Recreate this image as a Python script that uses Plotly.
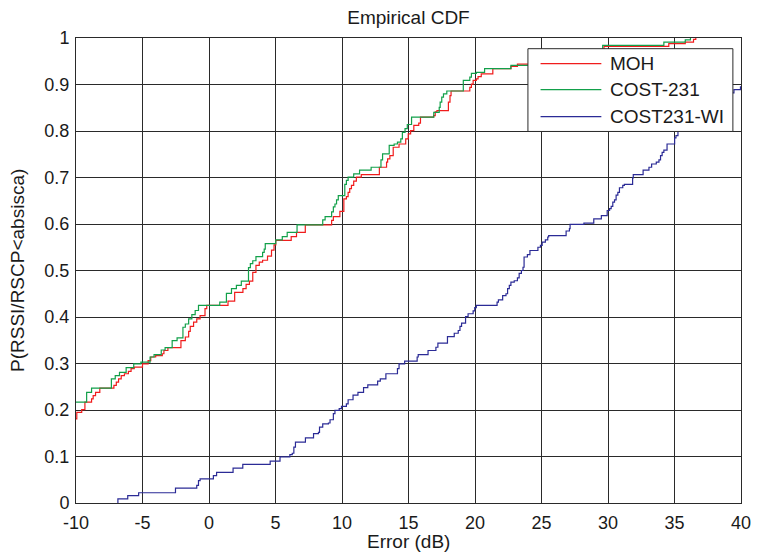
import plotly.graph_objects as go

# ---------------- data (step points of the empirical CDFs) ----------------
MOH_X = [-10, -9.94, -9.57, -9.33, -8.83, -8.71, -8.53, -8.21, -7.15, -6.97, -6.80, -6.60, -6.36, -6.06,
         -5.86, -5.62, -5.00, -4.58, -4.38, -4.01, -3.51, -3.39, -3.09, -2.11, -1.78, -1.53, -1.41, -1.16,
         -0.92, -0.67, -0.30, -0.17, 1.43, 1.93, 2.55, 2.79, 3.04, 3.29, 3.53, 3.78, 4.03, 4.40, 4.70, 4.89,
         5.02, 6.18, 6.58, 7.24, 9.22, 9.35, 9.84, 10.14, 10.33, 10.46, 10.58, 10.71, 10.88, 11.08, 11.45,
         12.81, 13.35, 13.43, 13.60, 13.85, 14.29, 14.79, 14.98, 15.16, 15.40, 15.77, 15.90, 16.89, 17.01,
         17.14, 18.00, 18.12, 18.20, 19.61, 19.73, 19.86, 20.10, 20.23, 20.47, 21.34, 22.70, 23.19, 24.5,
         27.0, 29.0, 29.70, 34.57, 35.81, 36.43, 36.6]
MOH_Y = [0.181, 0.195, 0.201, 0.217, 0.224, 0.231, 0.238, 0.247, 0.253, 0.260, 0.267, 0.274, 0.278, 0.283,
         0.289, 0.292, 0.299, 0.306, 0.314, 0.317, 0.321, 0.328, 0.334, 0.349, 0.357, 0.369, 0.380, 0.389,
         0.396, 0.403, 0.418, 0.425, 0.434, 0.453, 0.461, 0.470, 0.477, 0.496, 0.511, 0.518, 0.522, 0.531,
         0.544, 0.555, 0.565, 0.573, 0.582, 0.598, 0.608, 0.616, 0.627, 0.654, 0.659, 0.668, 0.676, 0.683,
         0.692, 0.701, 0.706, 0.722, 0.733, 0.740, 0.747, 0.765, 0.772, 0.783, 0.794, 0.801, 0.812, 0.817,
         0.830, 0.833, 0.841, 0.844, 0.862, 0.876, 0.886, 0.894, 0.901, 0.909, 0.912, 0.917, 0.923, 0.934,
         0.939, 0.944, 0.950, 0.960, 0.970, 0.982, 0.988, 0.991, 0.997, 1.0]

COST_X = [-10, -9.20, -8.83, -7.34, -7.05, -6.73, -6.23, -5.66, -5.12, -4.43, -4.13, -3.59, -3.30, -2.77,
          -2.40, -1.96, -1.78, -1.53, -1.29, -1.04, -0.79, 0.81, 1.31, 1.69, 2.06, 2.43, 2.97, 3.11, 3.29,
          3.53, 4.03, 4.15, 4.23, 5.02, 5.51, 5.88, 6.62, 8.55, 8.73, 9.22, 9.35, 9.47, 9.59, 9.72, 10.21,
          10.33, 10.46, 10.88, 11.32, 12.19, 12.93, 13.05, 13.55, 13.92, 14.17, 14.42, 14.54, 14.74, 14.91,
          15.23, 16.90, 17.31, 17.38, 17.50, 17.63, 17.88, 19.12, 19.61, 19.73, 20.10, 20.72, 22.70, 24.3,
          26.5, 28.5, 29.6, 34.2, 35.81, 36.2]
COST_Y = [0.217, 0.238, 0.247, 0.267, 0.274, 0.281, 0.291, 0.299, 0.303, 0.314, 0.319, 0.329, 0.334, 0.349,
          0.355, 0.378, 0.385, 0.396, 0.405, 0.414, 0.425, 0.432, 0.451, 0.461, 0.468, 0.477, 0.506, 0.515,
          0.521, 0.530, 0.539, 0.546, 0.558, 0.566, 0.573, 0.582, 0.598, 0.609, 0.616, 0.626, 0.637, 0.643,
          0.652, 0.661, 0.685, 0.694, 0.701, 0.708, 0.716, 0.722, 0.738, 0.751, 0.769, 0.772, 0.776, 0.783,
          0.797, 0.805, 0.814, 0.830, 0.840, 0.851, 0.862, 0.873, 0.880, 0.886, 0.909, 0.916, 0.924, 0.926,
          0.934, 0.941, 0.950, 0.960, 0.970, 0.984, 0.991, 0.996, 1.0]

WI_X = [-6.85, -6.85, -6.11, -5.29, -2.52, -0.92, -0.79, -0.67, 0.33, 0.57, 1.81, 2.54, 4.60, 5.34, 6.08,
        6.26, 6.38, 6.50, 7.25, 7.86, 8.23, 8.31, 8.55, 8.98, 9.10, 9.35, 9.47, 9.79, 9.96, 10.33, 10.46,
        10.83, 11.20, 11.62, 11.94, 12.68, 12.88, 13.30, 14.17, 14.29, 14.71, 15.65, 15.73, 16.47, 17.06,
        17.21, 17.93, 18.44, 18.74, 18.87, 18.99, 19.29, 19.48, 19.86, 19.98, 20.10, 21.66, 21.76, 22.08,
        22.33, 22.45, 22.58, 22.70, 22.95, 23.19, 23.32, 23.49, 23.61, 23.69, 23.94, 24.13, 24.73, 24.92,
        25.05, 25.29, 25.47, 25.54, 26.85, 27.10, 27.15, 28.19, 28.93, 29.50, 29.94, 30.12, 30.24, 30.36,
        30.49, 30.61, 30.74, 30.86, 31.11, 31.23, 31.85, 31.90, 32.64, 33.08, 33.28, 33.63, 33.83, 33.95,
        34.07, 34.20, 34.44, 35.01, 35.11, 35.26, 35.6, 36.2, 36.9, 37.6, 38.4, 39.0, 39.47, 39.96]
WI_Y = [0.0, 0.009, 0.016, 0.022, 0.032, 0.038, 0.048, 0.052, 0.059, 0.066, 0.075, 0.083, 0.090, 0.099,
        0.104, 0.107, 0.120, 0.131, 0.140, 0.149, 0.152, 0.163, 0.170, 0.172, 0.179, 0.192, 0.199, 0.203,
        0.208, 0.213, 0.222, 0.232, 0.238, 0.248, 0.254, 0.262, 0.267, 0.278, 0.289, 0.299, 0.305, 0.314,
        0.319, 0.328, 0.335, 0.344, 0.358, 0.365, 0.371, 0.380, 0.387, 0.401, 0.407, 0.413, 0.420, 0.425,
        0.432, 0.437, 0.446, 0.450, 0.461, 0.468, 0.475, 0.478, 0.484, 0.494, 0.500, 0.507, 0.529, 0.534,
        0.543, 0.550, 0.554, 0.561, 0.566, 0.572, 0.575, 0.585, 0.590, 0.599, 0.602, 0.611, 0.618, 0.629,
        0.633, 0.638, 0.647, 0.652, 0.662, 0.668, 0.678, 0.683, 0.685, 0.699, 0.706, 0.716, 0.722, 0.729,
        0.733, 0.738, 0.747, 0.754, 0.759, 0.772, 0.785, 0.790, 0.799, 0.812, 0.828, 0.845, 0.860, 0.872,
        0.882, 0.889, 0.896]

SERIES = ["MOH", "COST-231", "COST231-WI"]
COLORS = ["#f01c1c", "#12a04a", "#2b2b96"]
X_TICKS = list(range(-10, 41, 5))
Y_TICKS = [round(0.1 * i, 1) for i in range(11)]

TXT = "#1a1a1a"
GRID = "#2a2a2a"
FONT = "Liberation Sans, Arial, sans-serif"

fig = go.Figure()
for name, xs, ys, col in zip(SERIES, [MOH_X, COST_X, WI_X], [MOH_Y, COST_Y, WI_Y], COLORS):
    fig.add_trace(go.Scatter(x=xs, y=ys, mode="lines", name=name, line=dict(color=col, width=1.2, shape="hv"),
                             showlegend=False, hoverinfo="skip"))

fig.update_layout(
    width=763, height=553, autosize=False,
    margin=dict(l=76, r=13, t=38, b=50, pad=0),
    paper_bgcolor="white", plot_bgcolor="white",
    font=dict(family=FONT, size=18, color=TXT),
    title=dict(text="Empirical CDF", x=0.5, xref="paper", xanchor="center",
               y=1 - 17 / 553, yref="container", yanchor="middle", font=dict(size=19, color=TXT)),
)
fig.update_xaxes(range=[-10, 40], tickvals=X_TICKS, ticktext=[str(v) for v in X_TICKS],
                 showgrid=True, gridcolor=GRID, gridwidth=1, zeroline=False,
                 showline=True, mirror=True, linecolor=GRID, linewidth=1,
                 ticks="inside", ticklen=5, tickcolor=GRID, tickfont=dict(size=18, color=TXT),
                 ticklabelstandoff=3)
fig.update_yaxes(range=[0, 1], tickvals=Y_TICKS, ticktext=[("%g" % v) for v in Y_TICKS],
                 showgrid=True, gridcolor=GRID, gridwidth=1, zeroline=False,
                 showline=True, mirror=True, linecolor=GRID, linewidth=1,
                 ticks="inside", ticklen=5, tickcolor=GRID, tickfont=dict(size=18, color=TXT),
                 ticklabelstandoff=2)

# axis titles
fig.add_annotation(text="Error (dB)", x=0.5, y=-0.082, xref="paper", yref="paper",
                   xanchor="center", yanchor="middle", showarrow=False, font=dict(size=19, color=TXT))
fig.add_annotation(text="P(RSSI/RSCP&lt;absisca)", x=-0.088, y=0.5, xref="paper", yref="paper",
                   xanchor="center", yanchor="middle", textangle=-90, showarrow=False,
                   font=dict(size=19, color=TXT))

# legend box (drawn in data coordinates)
LEG_X0, LEG_X1, LEG_Y0, LEG_Y1 = 23.98, 39.39, 0.799, 0.977
fig.add_shape(type="rect", x0=LEG_X0, x1=LEG_X1, y0=LEG_Y0, y1=LEG_Y1, xref="x", yref="y",
              line=dict(color=GRID, width=1), fillcolor="white", layer="above")
for i, (name, col) in enumerate(zip(SERIES, COLORS)):
    yy = [0.945, 0.889, 0.831][i]
    fig.add_shape(type="line", x0=24.93, x1=29.5, y0=yy, y1=yy, xref="x", yref="y",
                  line=dict(color=col, width=1.2), layer="above")
    fig.add_annotation(text=name, x=30.0, y=yy, xref="x", yref="y", xanchor="left", yanchor="middle",
                       showarrow=False, font=dict(size=19, color=TXT))

fig.write_html("out.html")
